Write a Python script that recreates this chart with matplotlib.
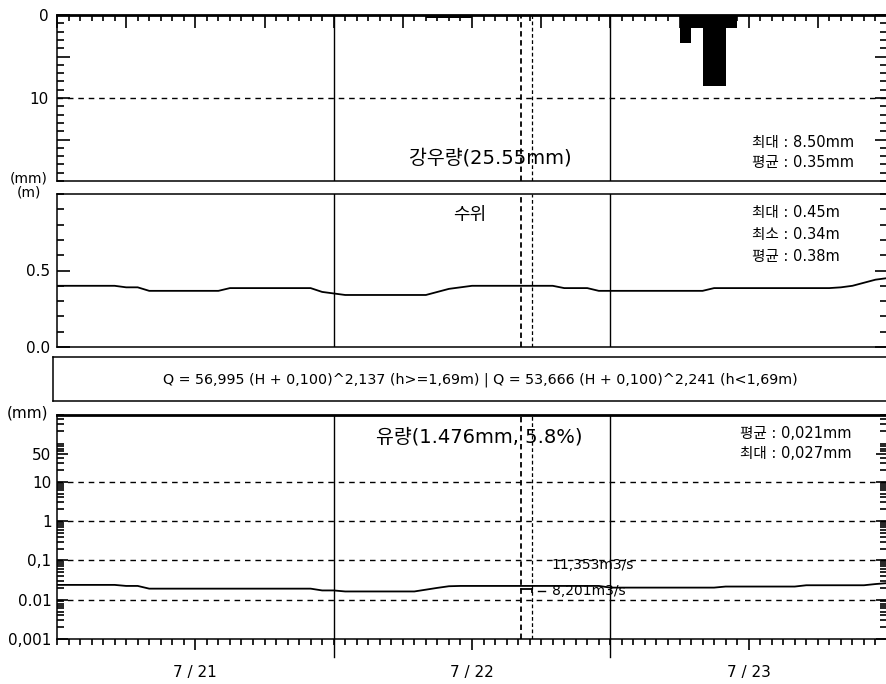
import numpy as np
import matplotlib.pyplot as plt
from matplotlib.ticker import MultipleLocator, FixedLocator, LogLocator, NullFormatter

plt.rcParams['font.family'] = ['DejaVu Sans', 'Noto Sans CJK KR']

# hourly data, 7/21 00:00 -> 7/24 00:00
hours = np.arange(73)
rain_hours = [32, 33, 34, 35, 54, 55, 56, 57, 58]
rain_mm = [0.4, 0.4, 0.4, 0.4, 3.4, 1.6, 8.5, 8.5, 1.6]

level = ([0.40] * 6 + [0.39] * 2 + [0.367] * 7 + [0.385] * 8 + [0.36, 0.35] +
         [0.34] * 8 + [0.36, 0.38, 0.39] + [0.40] * 8 + [0.385] * 3 +
         [0.367] * 10 + [0.385] * 11 + [0.39, 0.40, 0.42, 0.44, 0.45])

flow = ([0.0238] * 6 + [0.0224] * 2 + [0.0191] * 15 + [0.0172] * 2 +
        [0.0162] * 7 + [0.018, 0.020, 0.022, 0.0224] + [0.0224] * 12 +
        [0.0203] * 10 + [0.0216] * 7 + [0.0233] * 6 + [0.0250, 0.0264])

day_lines = [24, 48]
event_lines = [40.25, 41.2]
day_ticks = [12, 36, 60]
day_labels = ['7 / 21', '7 / 22', '7 / 23']

flow_grid = [10, 1, 0.1, 0.01]
flow_ticks = [0.001, 0.01, 0.1, 1, 10, 50]
flow_ticklabels = ['0,001', '0.01', '0,1', '1', '10', '50']

W, H = 886, 684
fig = plt.figure(figsize=(W / 100, H / 100), dpi=100)


def box(x0, y0, x1, y1):
    return [x0 / W, 1 - y1 / H, (x1 - x0) / W, (y1 - y0) / H]


def ftext(x, y, s, **kw):
    fig.text(x / W, 1 - y / H, s, **kw)


ax1 = fig.add_axes(box(57, 15, 887, 181))
ax2 = fig.add_axes(box(57, 194, 887, 347))
axq = fig.add_axes(box(53, 357, 887, 401))
ax4 = fig.add_axes(box(57, 415, 887, 639))

for ax in (ax1, ax2, axq, ax4):
    ax.set_xlim(0, 72)
    ax.spines['right'].set_visible(False)
    for s in ax.spines.values():
        s.set_linewidth(1.1)

dash = (0, (4, 3.5))

# ---- rainfall
ax1.bar(rain_hours, rain_mm, width=1, align='edge', color='black')
ax1.set_ylim(20, 0)
ax1.spines['top'].set_linewidth(2)
ax1.axhline(10, color='k', lw=1, ls=dash)
ax1.xaxis.set_major_locator(MultipleLocator(6))
ax1.xaxis.set_minor_locator(MultipleLocator(1))
ax1.tick_params(axis='x', which='both', direction='in', top=True, bottom=False,
                labelbottom=False, labeltop=False)
ax1.tick_params(axis='x', which='major', length=9, width=1.2)
ax1.tick_params(axis='x', which='minor', length=4, width=1.2)
ax1.yaxis.set_major_locator(FixedLocator([0, 5, 10, 15]))
ax1.set_yticklabels(['0', '', '10', ''])
ax1.yaxis.set_minor_locator(MultipleLocator(1))
ax1.tick_params(axis='y', which='both', direction='in', left=True, right=True,
                labelsize=11, pad=6, width=1.2)
ax1.tick_params(axis='y', which='major', length=9)
ax1.tick_params(axis='y', which='minor', length=5)

# ---- water level
ax2.plot(hours, level, color='k', lw=1.3)
ax2.set_ylim(0, 1.0)
ax2.set_xticks([])
ax2.yaxis.set_major_locator(FixedLocator([0, 0.5]))
ax2.set_yticklabels(['0.0', '0.5'])
ax2.yaxis.set_minor_locator(MultipleLocator(0.1))
ax2.tick_params(axis='y', which='both', direction='in', left=True, right=True,
                labelsize=11, pad=5, width=1.2)
ax2.tick_params(axis='y', which='major', length=9)
ax2.tick_params(axis='y', which='minor', length=5)

# ---- equation box
axq.set_xticks([])
axq.set_yticks([])
ftext(480, 380,
      'Q = 56,995 (H + 0,100)^2,137 (h>=1,69m) | Q = 53,666 (H + 0,100)^2,241 (h<1,69m)',
      ha='center', va='center', fontsize=10.3)

# ---- discharge
ax4.plot(hours, flow, color='k', lw=1.3)
ax4.set_yscale('log')
ax4.set_ylim(0.001, 500)
ax4.spines['top'].set_linewidth(2)
for v in flow_grid:
    ax4.axhline(v, color='k', lw=1, ls=dash)
ax4.yaxis.set_major_locator(FixedLocator(flow_ticks))
ax4.set_yticklabels(flow_ticklabels)
ax4.yaxis.set_minor_locator(LogLocator(base=10, subs=np.arange(2, 10)))
ax4.yaxis.set_minor_formatter(NullFormatter())
ax4.tick_params(axis='y', which='both', direction='in', left=True, right=True,
                labelsize=11, pad=4, width=1.2)
ax4.tick_params(axis='y', which='major', length=8)
ax4.tick_params(axis='y', which='minor', length=5)
ax4.set_xticks(day_ticks)
ax4.set_xticklabels(day_labels)
ax4.xaxis.set_minor_locator(MultipleLocator(1))
ax4.tick_params(axis='x', which='both', direction='out', width=1.2, labelsize=11)
ax4.tick_params(axis='x', which='major', length=8, pad=11)
ax4.tick_params(axis='x', which='minor', length=4)

# day boundaries and event markers
for ax in (ax1, ax2, ax4):
    for d in day_lines:
        ax.axvline(d, color='k', lw=1)
    ax.axvline(event_lines[0], color='k', lw=1.3, ls=(0, (3, 2)))
    ax.axvline(event_lines[1], color='k', lw=0.9, ls=(0, (3, 2)))
for d in day_lines:
    ax4.plot([d, d], [-0.08, 0], color='k', lw=1, clip_on=False,
             transform=ax4.get_xaxis_transform())
ax4.plot(event_lines, [0.0185, 0.0185], color='k', lw=1.3)
ax4.plot([event_lines[1], event_lines[1]], [0.0185, 0.016], color='k', lw=1.3)
ax4.plot([41.7, 42.3], [0.0165, 0.0165], color='k', lw=1)
ax4.text(42.9, 0.075, '11,353m3/s', ha='left', va='center', fontsize=10)
ax4.text(42.9, 0.0165, '8,201m3/s', ha='left', va='center', fontsize=10)

# ---- annotation texts
ftext(490, 158, '강우량(25.55mm)', ha='center', va='center', fontsize=14)
ftext(752, 143, '최대 : 8.50mm', ha='left', va='center', fontsize=10.5)
ftext(752, 163, '평균 : 0.35mm', ha='left', va='center', fontsize=10.5)

ftext(470, 215, '수위', ha='center', va='center', fontsize=13)
ftext(752, 213, '최대 : 0.45m', ha='left', va='center', fontsize=10.5)
ftext(752, 235, '최소 : 0.34m', ha='left', va='center', fontsize=10.5)
ftext(752, 256, '평균 : 0.38m', ha='left', va='center', fontsize=10.5)

ftext(479, 437, '유량(1.476mm, 5.8%)', ha='center', va='center', fontsize=14)
ftext(740, 433, '평균 : 0,021mm', ha='left', va='center', fontsize=10.5)
ftext(740, 453, '최대 : 0,027mm', ha='left', va='center', fontsize=10.5)

ftext(29, 179, '(mm)', ha='center', va='center', fontsize=10)
ftext(29, 192, '(m)', ha='center', va='center', fontsize=10)
ftext(28, 413, '(mm)', ha='center', va='center', fontsize=11)

fig.savefig('out.png', dpi=100, facecolor='white')
